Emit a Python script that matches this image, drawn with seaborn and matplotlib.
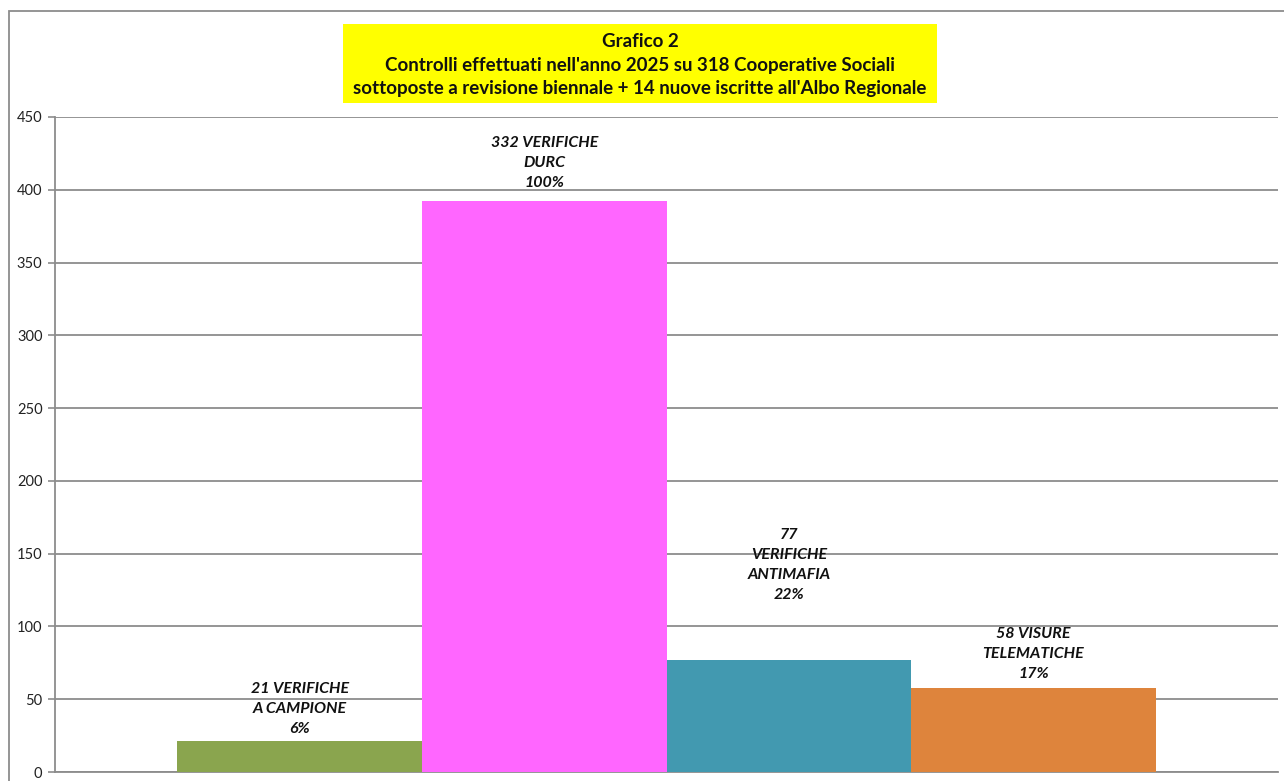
import matplotlib.pyplot as plt
import matplotlib.patches as mpatches
import pandas as pd
import seaborn as sns

# values
categories = ['A CAMPIONE', 'DURC', 'ANTIMAFIA', 'TELEMATICHE']
values = [21, 392, 77, 58]
bar_labels = ['21 VERIFICHE\nA CAMPIONE\n6%',
              '332 VERIFICHE\nDURC\n100%',
              '77\nVERIFICHE\nANTIMAFIA\n22%',
              '58 VISURE\nTELEMATICHE\n17%']
yticks = [0, 50, 100, 150, 200, 250, 300, 350, 400, 450]
colors = ['#8AA54E', '#FF66FF', '#4299B0', '#DE843C']
label_offsets = [32, 38, 95, 34]   # pixels above bar top to label centre

title = ("Grafico 2\n"
         "Controlli effettuati nell'anno 2025 su 318 Cooperative Sociali\n"
         "sottoposte a revisione biennale + 14 nuove iscritte all'Albo Regionale")

df = pd.DataFrame({'cat': categories, 'val': values})

sns.set_style('white')
plt.rcParams['font.family'] = ['Lato', 'DejaVu Sans']

fig = plt.figure(figsize=(12.84, 7.81), dpi=100)
ax = fig.add_axes([55 / 1284, 1 - 772 / 781, (1278 - 55) / 1284, (772 - 117) / 781])

sns.barplot(data=df, x='cat', y='val', hue='cat', palette=colors, width=1,
            dodge=False, legend=False, saturation=1, linewidth=0, ax=ax, zorder=3)

ax.set_xlim(-1, 4)
ax.set_ylim(0, 450)
ax.set_yticks(yticks)
ax.set_yticklabels([str(t) for t in yticks], fontsize=10.5, color='#222222')
ax.set_xticks([])
ax.set_xlabel('')
ax.set_ylabel('')
ax.grid(axis='y', color='#8c8c8c', linewidth=1.3, zorder=0)
ax.tick_params(axis='y', left=True, length=5, width=1.2, color='#8c8c8c', pad=4)
for side in ['top', 'right']:
    ax.spines[side].set_visible(False)
for side in ['left', 'bottom']:
    ax.spines[side].set_color('#8c8c8c')
    ax.spines[side].set_linewidth(1.3)

for i, (v, lab) in enumerate(zip(values, bar_labels)):
    ax.annotate(lab, xy=(i, v), xytext=(0, label_offsets[i] * 0.72),
                textcoords='offset points', ha='center', va='center',
                fontsize=11.5, fontweight='bold', fontstyle='italic',
                linespacing=1.55, color='#111111', zorder=5)

# title in a yellow box
fig.patches.append(mpatches.Rectangle((343 / 1284, 1 - 103 / 781), 594 / 1284, 79 / 781,
                                      transform=fig.transFigure, facecolor='#FFFF00',
                                      edgecolor='none'))
fig.text(640 / 1284, 1 - 65 / 781, title, ha='center', va='center',
         fontsize=13.5, fontweight='bold', linespacing=1.45, color='#111111')

# outer chart border
fig.patches.append(mpatches.Rectangle((9 / 1284, -0.05), 1.2, 1 - 11 / 781 + 0.05,
                                      transform=fig.transFigure, fill=False,
                                      edgecolor='#8c8c8c', linewidth=1.3))

plt.savefig('out.png', dpi=100)
plt.close()
